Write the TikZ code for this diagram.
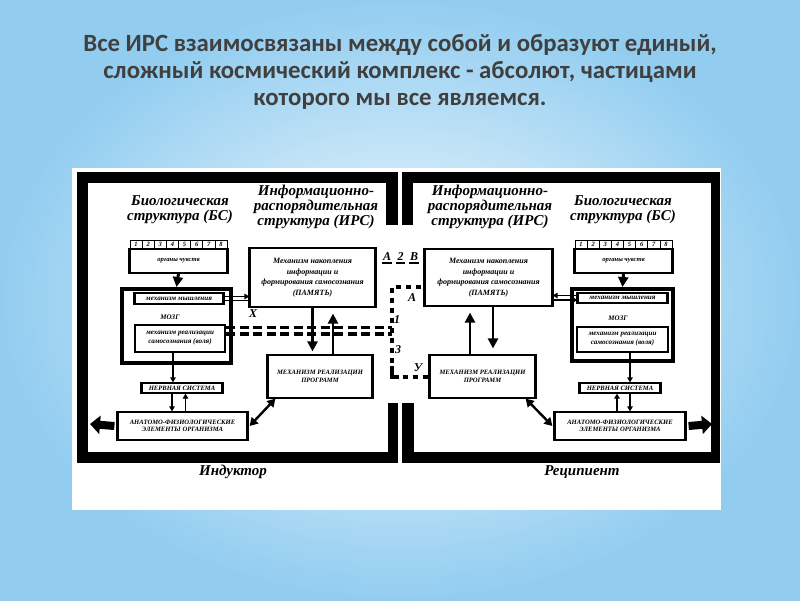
\documentclass[tikz,border=0pt]{standalone}
\usepackage{fontspec}
\setmainfont{Liberation Serif}
\newfontfamily\headfont{Carlito}
\usepackage{xcolor}
\definecolor{skyout}{HTML}{92CDF0}
\definecolor{skyin}{HTML}{F4FAFD}
\definecolor{headgray}{HTML}{404040}
\usepackage{tikz}
\usetikzlibrary{arrows.meta,calc}
\tikzset{
  headline/.style={font=\headfont\bfseries\fontsize{24.8}{27}\selectfont, text=headgray, align=center},
  paneltitle/.style={font=\bfseries\itshape\fontsize{15}{15}\selectfont, align=center, inner sep=0},
  letter/.style={font=\bfseries\itshape\fontsize{12}{12}\selectfont, inner sep=0},
  box/.style={draw, line width=1.2pt, inner sep=0, align=center,
    font=\bfseries\itshape\fontsize{6.6}{7.6}\selectfont},
  numcell/.style={draw, line width=0.6pt, inner sep=0, minimum width=12.1, minimum height=9,
    font=\bfseries\itshape\fontsize{6.5}{6.5}\selectfont},
  brainbox/.style={draw, line width=4pt, inner sep=0},
  sidebar/.style={line width=3.2pt},
  thinarr/.style={line width=1.2pt, -{Triangle[length=5pt,width=5.5pt]}},
  plainline/.style={line width=1.1pt},
  fat/.style={line width=2.4pt, -{Triangle[length=10pt,width=10pt]}},
  both/.style={line width=2.4pt, {Triangle[length=8pt,width=9pt]}-{Triangle[length=8pt,width=9pt]}},
  block/.style={line width=8pt, -{Triangle[length=10pt,width=18pt]}},
  dashrow/.style={line width=3.6pt, dash pattern=on 9pt off 4.5pt},
  dashlink/.style={line width=4pt, dash pattern=on 5pt off 5pt},
  memtxt/.style={font=\bfseries\itshape\fontsize{8}{10.5}\selectfont},
  smalltxt/.style={font=\bfseries\itshape\fontsize{7.1}{9}\selectfont},
}

\begin{document}
\begin{tikzpicture}[x=1pt, y=-1pt]
\useasboundingbox (0,0) rectangle (800,600);
% backdrop and heading
\shade[inner color=skyin, outer color=skyout] (0,0) rectangle (800,600);
\node[headline] (head) at (400,72) {Все ИРС взаимосвязаны между собой и образуют единый,\\
  сложный космический комплекс - абсолют, частицами\\которого мы все являемся.};
\fill[white] (72,168) rectangle (721,510);
% the two frames
\fill (77,172) rectangle (398,183);
\fill (77,172) rectangle (88,463);
\fill (77,452) rectangle (398,463);
\fill (386,172) rectangle (398,225);
\fill (388,403) rectangle (398,463);
\fill (402,172) rectangle (720,183);
\fill (711,172) rectangle (720,463);
\fill (402,452) rectangle (720,463);
\fill (402,172) rectangle (413,225);
\fill (402,403) rectangle (414,463);

% inductor (left)
\node[paneltitle] (bsL) at (180,209.5) {Биологическая\\структура (БС)};
\node[paneltitle] (irsL) at (316,207) {Информационно-\\распорядительная\\структура (ИРС)};
\foreach \i in {1,...,8}
  \node[numcell] (nL\i) at ({130+(\i-0.5)*12.125},244.5) {\i};
\node[box, minimum width=97, minimum height=24] (organsL) at (178.5,261) {органы чувств};
\node[brainbox, minimum width=109, minimum height=74] (brainL) at (176.5,326) {};
\node[box, smalltxt, minimum width=88, minimum height=11] (thinkL) at (179,298.5) {механизм мышления};
\node[box, font=\bfseries\itshape\fontsize{7}{7}\selectfont, draw=none] (mozgL) at (170,317) {МОЗГ};
\node[box, smalltxt, line width=2pt, minimum width=90, minimum height=27] (willL) at (180,338.5)
  {механизм реализации\\самосознания (воля)};
\node[box, minimum width=80, minimum height=10] (nervL) at (182,388) {НЕРВНАЯ СИСТЕМА};
\node[box, minimum width=129, minimum height=28] (anatL) at (182.5,426)
  {АНАТОМО-ФИЗИОЛОГИЧЕСКИЕ\\ЭЛЕМЕНТЫ ОРГАНИЗМА};
\node[box, memtxt, minimum width=125, minimum height=59] (memL) at (312.5,277.5)
  {Механизм накопления\\информации и\\формирования самосознания\\(ПАМЯТЬ)};
\node[box, minimum width=104, minimum height=43] (progL) at (320,376.5)
  {МЕХАНИЗМ РЕАЛИЗАЦИИ\\ПРОГРАММ};
\node[letter] (xL) at (253,314) {X};
\node[paneltitle] (indL) at (233,472) {Индуктор};
\coordinate (outL) at (90,424);

% recipient (right)
\node[paneltitle] (irsR) at (490,207) {Информационно-\\распорядительная\\структура (ИРС)};
\node[paneltitle] (bsR) at (623,209.5) {Биологическая\\структура (БС)};
\foreach \i in {1,...,8}
  \node[numcell] (nR\i) at ({575+(\i-0.5)*12.125},244.5) {\i};
\node[box, minimum width=97, minimum height=24] (organsR) at (623.5,261) {органы чувств};
\node[brainbox, minimum width=101, minimum height=72] (brainR) at (622.5,325) {};
\node[box, smalltxt, minimum width=89, minimum height=10] (thinkR) at (622.5,298) {механизм мышления};
\node[box, font=\bfseries\itshape\fontsize{7}{7}\selectfont, draw=none] (mozgR) at (618,318) {МОЗГ};
\node[box, smalltxt, line width=2pt, minimum width=91, minimum height=25] (willR) at (622.5,339.5)
  {механизм реализации\\самосознания (воля)};
\node[box, minimum width=80, minimum height=10] (nervR) at (620,388) {НЕРВНАЯ СИСТЕМА};
\node[box, minimum width=130, minimum height=28] (anatR) at (620,426)
  {АНАТОМО-ФИЗИОЛОГИЧЕСКИЕ\\ЭЛЕМЕНТЫ ОРГАНИЗМА};
\node[box, memtxt, minimum width=127, minimum height=57] (memR) at (488.5,277.5)
  {Механизм накопления\\информации и\\формирования самосознания\\(ПАМЯТЬ)};
\node[box, minimum width=105, minimum height=43] (progR) at (482.5,376.5)
  {МЕХАНИЗМ РЕАЛИЗАЦИИ\\ПРОГРАММ};
\node[paneltitle] (recR) at (582,472) {Реципиент};
\coordinate (outR) at (712,424);

\foreach \n in {organsL,thinkL,nervL,anatL,memL,progL,organsR,thinkR,nervR,anatR,memR,progR}
  \draw[sidebar] (\n.north west) -- (\n.south west) (\n.north east) -- (\n.south east);

% links inside the inductor
\draw[fat, line width=3pt] (organsL.south) -- (brainL.north);
\draw[thinarr] ([yshift=2]thinkL.east) -- ([yshift=2]thinkL.east -| memL.west);
\draw[plainline] ([yshift=-2]thinkL.east) -- ([yshift=-2]thinkL.east -| memL.west);
\draw[fat, shorten >=3pt] (memL.south) -- (memL.south |- progL.north);
\draw[fat, shorten >=6pt] ([xshift=13]progL.north) -- ([xshift=13]progL.north |- memL.south);
\draw[thinarr] ([xshift=-7]willL.south) -- ([xshift=-9]nervL.north);
\draw[thinarr] ([xshift=-10]nervL.south) -- ([xshift=-10]nervL.south |- anatL.north);
\draw[thinarr] ([xshift=3]anatL.north) -- ([xshift=3]anatL.north |- nervL.south);
\draw[both] ([xshift=2]anatL.east) -- ([xshift=8]progL.south west);
\draw[block] ([xshift=-3]anatL.west) -- (outL);

% links inside the recipient
\draw[fat, line width=3pt] (organsR.south) -- (brainR.north);
\draw[thinarr] ([yshift=2.5]thinkR.west) -- ([yshift=2.5]thinkR.west -| memR.east);
\draw[thinarr] ([yshift=-2]thinkR.west -| memR.east) -- ([yshift=-2]thinkR.west);
\draw[fat, shorten >=6pt] ([xshift=-12.5]progR.north) -- ([xshift=-12.5]progR.north |- memR.south);
\draw[fat, shorten >=6pt] ([xshift=4.5]memR.south) -- ([xshift=4.5]memR.south |- progR.north);
\draw[thinarr] ([xshift=7.5]willR.south) -- ([xshift=10]nervR.north);
\draw[thinarr] ([xshift=-3]anatR.north) -- ([xshift=-3]anatR.north |- nervR.south);
\draw[thinarr] ([xshift=10]nervR.south) -- ([xshift=10]nervR.south |- anatR.north);
\draw[both] ([xshift=-10]progR.south east) -- ([xshift=-2]anatR.west);
\draw[block] ([xshift=3]anatR.east) -- (outR);

% the channel between the two
\coordinate (midT) at (392,287);
\coordinate (midB) at (392,377);
\draw[dashrow] ([yshift=11]willL.east) -- ([yshift=11]willL.east -| midT);
\draw[dashrow] ([yshift=4.5]willL.east) -- ([yshift=4.5]willL.east -| midT);
\draw[dashlink] ([xshift=-3]midT -| memR.west) -- (midT) -- (midB) -- (midB -| progR.west);
\draw[line width=4pt] (392,366) -- (midB) -- (399,377);
\foreach \t/\x in {А/387,2/400.5,В/414}
  \node[letter] (top\t) at (\x,257) {\t};
\foreach \t in {А,2,В}
  \draw[line width=2.6pt] ([xshift=-1,yshift=-2]top\t.south west) -- ([xshift=1,yshift=-2]top\t.south east);
\node[letter] (lA) at (412,298) {А};
\node[letter] (l1) at (397,320) {1};
\node[letter] (l3) at (398,350) {3};
\node[letter] (lY) at (418,368) {У};
\end{tikzpicture}
\end{document}
